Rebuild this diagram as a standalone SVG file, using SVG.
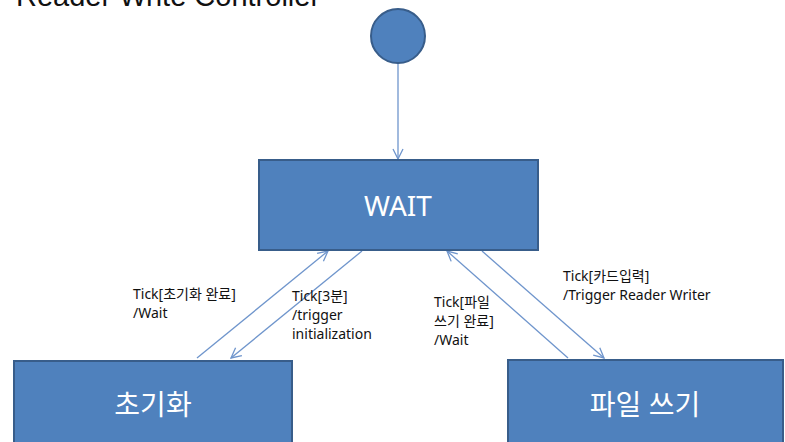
<svg xmlns="http://www.w3.org/2000/svg" width="785" height="442" viewBox="0 0 785 442">
<style>
.node{fill:#4f81bd;stroke:#385d8a;stroke-width:2}
.ntext{fill:#ffffff;font-family:"Noto Sans","Noto Sans CJK KR",sans-serif;font-size:28px;text-anchor:middle}
.lbl{fill:#111111;font-family:"Noto Sans","Noto Sans CJK KR",sans-serif;font-size:14px}
.edge{stroke:#6f95cc;stroke-width:1.3;fill:none;marker-end:url(#arr)}
.title{fill:#111111;font-family:"Liberation Sans","Noto Sans CJK KR",sans-serif;font-size:29px}
</style>
<defs>
<marker id="arr" viewBox="0 0 12 12" refX="11" refY="6" markerWidth="12" markerHeight="12" markerUnits="userSpaceOnUse" orient="auto">
<path d="M1,1 L11,6 L1,11" fill="none" stroke="#6f95cc" stroke-width="1.3"/>
</marker>
</defs>
<rect width="785" height="442" fill="#ffffff"/>
<text class="title" x="16" y="6">Reader Write Controller</text>
<g id="connectors">
<line class="edge" x1="398" y1="63" x2="398" y2="159"/>
<line class="edge" x1="197" y1="358" x2="328" y2="251"/>
<line class="edge" x1="362" y1="251" x2="231" y2="358"/>
<line class="edge" x1="568" y1="358" x2="447" y2="251"/>
<line class="edge" x1="482" y1="251" x2="604" y2="358"/>
</g>
<g id="start"><circle class="node" cx="398" cy="36" r="27"/></g>
<g id="wait">
<rect class="node" x="259" y="160" width="279" height="90"/>
<text class="ntext" x="398" y="216">WAIT</text>
</g>
<g id="init">
<rect class="node" x="14" y="361" width="278" height="90"/>
<text class="ntext" x="153" y="415">초기화</text>
</g>
<g id="filewrite">
<rect class="node" x="508" y="360" width="275" height="90"/>
<text class="ntext" x="645" y="415">파일 쓰기</text>
</g>
<g id="labels">
<text class="lbl" x="133" y="299">Tick[초기화 완료]</text>
<text class="lbl" x="133" y="318">/Wait</text>
<text class="lbl" x="292" y="301">Tick[3분]</text>
<text class="lbl" x="292" y="320">/trigger</text>
<text class="lbl" x="292" y="339">initialization</text>
<text class="lbl" x="434" y="307">Tick[파일</text>
<text class="lbl" x="434" y="326">쓰기 완료]</text>
<text class="lbl" x="434" y="345">/Wait</text>
<text class="lbl" x="563" y="281">Tick[카드입력]</text>
<text class="lbl" x="563" y="300">/Trigger Reader Writer</text>
</g>
</svg>
